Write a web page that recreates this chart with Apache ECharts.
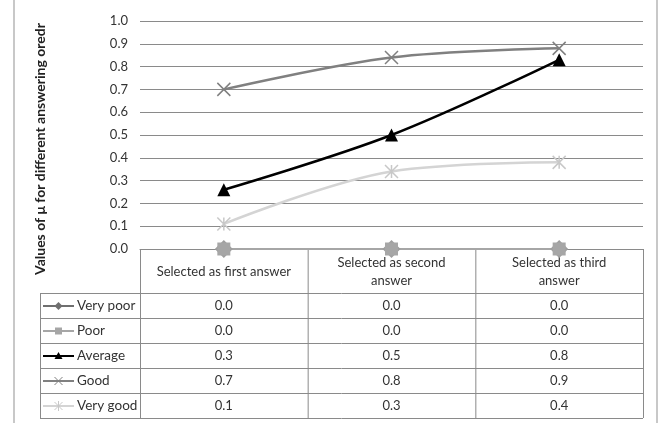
<!DOCTYPE html>
<html>
<head>
<meta charset="utf-8">
<script src="https://cdn.jsdelivr.net/npm/echarts@6/dist/echarts.min.js"></script>
<style>
html,body{margin:0;padding:0;background:#fff;}
#c{width:661px;height:423px;}
</style>
</head>
<body>
<div id="c"></div>
<script>
// ---- data ----
const categories = ['Selected as first answer', 'Selected as second answer', 'Selected as third answer'];
const headerLabels = ['Selected as first answer', 'Selected as second\nanswer', 'Selected as third\nanswer'];
const seriesNames = ['Very poor', 'Poor', 'Average', 'Good', 'Very good'];
const veryPoor = [0.0, 0.0, 0.0];
const poor = [0.0, 0.0, 0.0];
const average = [0.26, 0.50, 0.83];
const good = [0.70, 0.84, 0.88];
const veryGood = [0.11, 0.34, 0.38];
const yTitle = 'Values of \u03bc for different answering oredr';

// ---- layout ----
const W = 661, H = 423;
const gridL = 140, gridR = 643, gridT = 21, gridB = 249;
const legendL = 40;
const headerB = 293, rowH = 25;
const FONT = 'Lato, "Open Sans", sans-serif';
const TXT = '#333';
const LINEC = '#8a8a8a';
const FS = 13;

const seriesData = [veryPoor, poor, average, good, veryGood];
const colors = ['#6f6f6f', '#a6a6a6', '#000000', '#808080', '#d4d4d4'];
const xPath = 'path://M0,0L10,10M10,0L0,10';
const starPath = 'path://M0,0L10,10M10,0L0,10M5,0L5,10';

const chart = echarts.init(document.getElementById('c'), null, {renderer: 'canvas'});

const series = [
  {name: seriesNames[0], data: veryPoor, symbol: 'diamond', symbolSize: 18, z: 3,
   itemStyle: {color: '#9e9e9e'}, lineStyle: {color: colors[0], width: 2}},
  {name: seriesNames[1], data: poor, symbol: 'rect', symbolSize: 13, z: 3,
   itemStyle: {color: '#a6a6a6'}, lineStyle: {color: colors[1], width: 2}},
  {name: seriesNames[2], data: average, symbol: 'triangle', symbolSize: 13, z: 5,
   itemStyle: {color: '#000'}, lineStyle: {color: '#000', width: 2.5}},
  {name: seriesNames[3], data: good, symbol: xPath, symbolSize: 13, z: 4,
   itemStyle: {color: 'rgba(0,0,0,0)', borderColor: '#808080', borderWidth: 1.5}, lineStyle: {color: '#808080', width: 2.5}},
  {name: seriesNames[4], data: veryGood, symbol: starPath, symbolSize: 13, z: 4,
   itemStyle: {color: 'rgba(0,0,0,0)', borderColor: '#c8c8c8', borderWidth: 1.5}, lineStyle: {color: '#d4d4d4', width: 2.5}}
].map(s => Object.assign({type: 'line', smooth: 0.35, showSymbol: true, animation: false, emphasis: {disabled: true}}, s));

// ---- table graphics ----
const graphic = [];
const colW = (gridR - gridL) / categories.length;
const lineStyle = {stroke: LINEC, lineWidth: 1};
function hline(x1, x2, y) { graphic.push({type: 'line', shape: {x1: x1, y1: y + 0.5, x2: x2, y2: y + 0.5}, style: lineStyle, silent: true}); }
function vline(x, y1, y2) { graphic.push({type: 'line', shape: {x1: x + 0.5, y1: y1, x2: x + 0.5, y2: y2}, style: lineStyle, silent: true}); }
const tableB = headerB + rowH * seriesNames.length;
for (let i = 0; i <= categories.length; i++) vline(gridL + colW * i, gridB, tableB);
vline(legendL, headerB, tableB);
for (let r = 0; r <= seriesNames.length; r++) hline(legendL, gridR, headerB + rowH * r);

for (let r = 0; r < seriesNames.length; r++) {
  const cy = headerB + rowH * r + rowH / 2 + 0.5;
  const lx1 = legendL + 3, lx2 = legendL + 34, mx = (lx1 + lx2) / 2;
  const c = colors[r];
  graphic.push({type: 'line', shape: {x1: lx1, y1: cy, x2: lx2, y2: cy}, style: {stroke: c, lineWidth: 2}, silent: true});
  if (r === 0) graphic.push({type: 'polygon', shape: {points: [[mx, cy - 4], [mx + 4, cy], [mx, cy + 4], [mx - 4, cy]]}, style: {fill: '#6f6f6f'}, silent: true});
  if (r === 1) graphic.push({type: 'rect', shape: {x: mx - 3.5, y: cy - 3.5, width: 7, height: 7}, style: {fill: '#a6a6a6'}, silent: true});
  if (r === 2) graphic.push({type: 'polygon', shape: {points: [[mx, cy - 4], [mx + 4, cy + 3], [mx - 4, cy + 3]]}, style: {fill: '#000'}, silent: true});
  if (r === 3 || r === 4) {
    const sc = r === 3 ? '#808080' : '#c8c8c8';
    graphic.push({type: 'line', shape: {x1: mx - 4, y1: cy - 4, x2: mx + 4, y2: cy + 4}, style: {stroke: sc, lineWidth: 1}, silent: true});
    graphic.push({type: 'line', shape: {x1: mx + 4, y1: cy - 4, x2: mx - 4, y2: cy + 4}, style: {stroke: sc, lineWidth: 1}, silent: true});
    if (r === 4) graphic.push({type: 'line', shape: {x1: mx, y1: cy - 5, x2: mx, y2: cy + 5}, style: {stroke: sc, lineWidth: 1}, silent: true});
  }
  graphic.push({type: 'text', x: legendL + 37, y: cy, silent: true,
    style: {text: seriesNames[r], font: '13.5px ' + FONT, fill: TXT, textAlign: 'left', textVerticalAlign: 'middle'}});
  for (let i = 0; i < categories.length; i++) {
    graphic.push({type: 'text', x: gridL + colW * (i + 0.5), y: cy, silent: true,
      style: {text: seriesData[r][i].toFixed(1), font: FS + 'px ' + FONT, fill: TXT, textAlign: 'center', textVerticalAlign: 'middle'}});
  }
}
graphic.push({type: 'text', x: 40, y: 149, rotation: Math.PI / 2, silent: true,
  style: {text: yTitle, font: 'bold 14px ' + FONT, fill: '#222', textAlign: 'center', textVerticalAlign: 'middle'}});
graphic.push({type: 'line', shape: {x1: 14, y1: 0, x2: 14, y2: H}, style: {stroke: '#c8c8c8', lineWidth: 2}, silent: true});
graphic.push({type: 'line', shape: {x1: 657, y1: 0, x2: 657, y2: H}, style: {stroke: '#c8c8c8', lineWidth: 2}, silent: true});

chart.setOption({
  animation: false,
  textStyle: {fontFamily: FONT},
  grid: {left: gridL, right: W - gridR, top: gridT, bottom: H - gridB, containLabel: false},
  xAxis: {
    type: 'category', data: categories, boundaryGap: true,
    axisLine: {show: true, lineStyle: {color: LINEC, width: 1}},
    axisTick: {show: false},
    splitLine: {show: false},
    axisLabel: {
      interval: 0, margin: 23, verticalAlign: 'middle', lineHeight: 18,
      fontSize: FS, color: TXT, fontFamily: FONT,
      formatter: (v, i) => headerLabels[i]
    }
  },
  yAxis: {
    type: 'value', min: 0, max: 1, interval: 0.1,
    axisLine: {show: false}, axisTick: {show: false},
    splitLine: {show: true, lineStyle: {color: LINEC, width: 1}},
    axisLabel: {margin: 12, fontSize: FS, color: TXT, fontFamily: FONT, formatter: v => v.toFixed(1)}
  },
  series: series,
  graphic: graphic
});
</script>
</body>
</html>
